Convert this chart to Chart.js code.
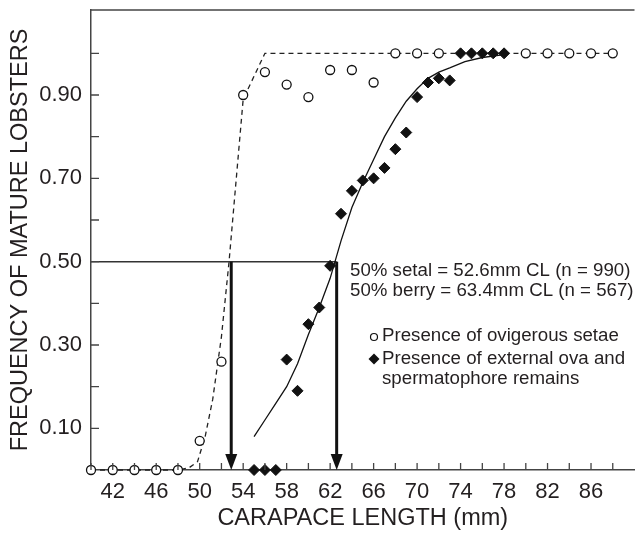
<!DOCTYPE html>
<html>
<head>
<meta charset="utf-8">
<script src="https://cdn.jsdelivr.net/npm/chart.js@4.4.0/dist/chart.umd.min.js"></script>
<style>
  html, body { margin: 0; padding: 0; background: #fff; }
  #wrap { width: 641px; height: 533px; }
</style>
</head>
<body>
<div id="wrap"><canvas id="chart"></canvas></div>
<script>
// observed frequencies
const setaeX = [40, 42, 44, 46, 48, 50, 52, 54, 56, 58, 60, 62, 64, 66, 68, 70, 72, 80, 82, 84, 86, 88];
const setaeY = [0, 0, 0, 0, 0, 0.07, 0.26, 0.90, 0.955, 0.925, 0.895, 0.96, 0.96, 0.93, 1, 1, 1, 1, 1, 1, 1, 1];
const berryX = [55, 56, 57, 58, 59, 60, 61, 62, 63, 64, 65, 66, 67, 68, 69, 70, 71, 72, 73, 74, 75, 76, 77, 78];
const berryY = [0, 0, 0, 0.265, 0.19, 0.35, 0.39, 0.49, 0.615, 0.67, 0.695, 0.70, 0.725, 0.77, 0.81, 0.895, 0.93, 0.94, 0.935, 1, 1, 1, 1, 1];

// fitted curves
const setaeFitX = [40, 48, 49, 49.8, 50.5, 51.2, 52, 52.7, 53.2, 54, 56, 88];
const setaeFitY = [0, 0, 0.005, 0.02, 0.08, 0.17, 0.32, 0.5, 0.65, 0.89, 1, 1];
const berryFitX = [55, 56, 57, 58, 59, 60, 61, 62, 63, 64, 65, 66, 67, 68, 69, 70, 71, 72, 73, 74.4, 76, 78];
const berryFitY = [0.08, 0.12, 0.16, 0.2, 0.255, 0.325, 0.39, 0.46, 0.55, 0.63, 0.69, 0.745, 0.8, 0.845, 0.885, 0.915, 0.94, 0.955, 0.965, 0.98, 0.99, 0.997];

// 50% markers
const halfLevel = 0.5;
const arrowX = [52.9, 62.6];

// ticks
const xTicks = [40, 42, 44, 46, 48, 50, 52, 54, 56, 58, 60, 62, 64, 66, 68, 70, 72, 74, 76, 78, 80, 82, 84, 86, 88];
const xLabels = [42, 46, 50, 54, 58, 62, 66, 70, 74, 78, 82, 86];
const yTicks = [0.1, 0.2, 0.3, 0.4, 0.5, 0.6, 0.7, 0.8, 0.9, 1.0];
const yLabels = [0.1, 0.3, 0.5, 0.7, 0.9];

const notes = ["50% setal = 52.6mm CL (n = 990)", "50% berry = 63.4mm CL (n = 567)"];
const legendSetae = "Presence of ovigerous setae";
const legendBerry = ["Presence of external ova and", "spermatophore remains"];

const ink = "#231f20";
const family = "'Liberation Sans', Arial, Helvetica, sans-serif";
const pts = (xs, ys) => xs.map((v, i) => ({ x: v, y: ys[i] }));

const frame = {
  id: "frame",
  beforeDatasetsDraw(chart) {
    const { ctx, chartArea: a, scales: { x, y } } = chart;
    const yHalf = y.getPixelForValue(halfLevel);
    const y0 = y.getPixelForValue(0);
    ctx.save();
    ctx.strokeStyle = "#333";
    ctx.lineWidth = 1.5;
    ctx.beginPath();
    ctx.moveTo(a.left, yHalf);
    ctx.lineTo(x.getPixelForValue(arrowX[1]), yHalf);
    ctx.stroke();
    arrowX.forEach((v) => {
      const px = x.getPixelForValue(v);
      ctx.strokeStyle = "#111";
      ctx.lineWidth = 3;
      ctx.beginPath();
      ctx.moveTo(px, yHalf);
      ctx.lineTo(px, y0 - 12);
      ctx.stroke();
      ctx.fillStyle = "#111";
      ctx.beginPath();
      ctx.moveTo(px - 6, y0 - 16);
      ctx.lineTo(px + 6, y0 - 16);
      ctx.lineTo(px, y0);
      ctx.closePath();
      ctx.fill();
    });
    ctx.restore();
  },
  afterDraw(chart) {
    const { ctx, chartArea: a, scales: { x, y } } = chart;
    ctx.save();
    // top border
    ctx.strokeStyle = "#444";
    ctx.lineWidth = 1.5;
    ctx.beginPath();
    ctx.moveTo(a.left, a.top);
    ctx.lineTo(a.right, a.top);
    ctx.stroke();
    // inward ticks
    ctx.lineWidth = 1.3;
    ctx.beginPath();
    yTicks.forEach((v) => {
      const py = y.getPixelForValue(v);
      ctx.moveTo(a.left, py);
      ctx.lineTo(a.left + 8, py);
    });
    xTicks.forEach((v) => {
      const px = x.getPixelForValue(v);
      ctx.moveTo(px, a.bottom);
      ctx.lineTo(px, a.bottom - 7);
    });
    ctx.stroke();

    // text
    ctx.fillStyle = ink;
    ctx.textBaseline = "middle";
    ctx.font = "18.7px " + family;
    ctx.fillText(notes[0], 350, 271);
    ctx.fillText(notes[1], 350, 291);
    ctx.fillText(legendSetae, 382, 336);
    ctx.fillText(legendBerry[0], 382, 359);
    ctx.fillText(legendBerry[1], 382, 379);

    // legend symbols
    ctx.strokeStyle = "#111";
    ctx.lineWidth = 1.2;
    ctx.beginPath();
    ctx.arc(374, 337, 3.5, 0, Math.PI * 2);
    ctx.stroke();
    ctx.fillStyle = "#111";
    ctx.beginPath();
    ctx.moveTo(374, 353.5);
    ctx.lineTo(379.5, 359);
    ctx.lineTo(374, 364.5);
    ctx.lineTo(368.5, 359);
    ctx.closePath();
    ctx.fill();
    ctx.restore();
  }
};

new Chart(document.getElementById("chart"), {
  type: "scatter",
  data: {
    datasets: [
      {
        label: "berry",
        data: pts(berryX, berryY),
        pointStyle: "rectRot",
        pointRadius: 5.5,
        pointBackgroundColor: "#111",
        pointBorderColor: "#111",
        pointBorderWidth: 1,
        clip: false
      },
      {
        label: "setae",
        data: pts(setaeX, setaeY),
        pointStyle: "circle",
        pointRadius: 4.5,
        pointBackgroundColor: "#fff",
        pointBorderColor: "#111",
        pointBorderWidth: 1.3,
        clip: false
      },
      {
        label: "berry fit",
        data: pts(berryFitX, berryFitY),
        showLine: true,
        borderColor: "#111",
        borderWidth: 1.3,
        pointRadius: 0,
        tension: 0,
        clip: false
      },
      {
        label: "setae fit",
        data: pts(setaeFitX, setaeFitY),
        showLine: true,
        borderColor: "#222",
        borderWidth: 1.3,
        borderDash: [5, 4],
        pointRadius: 0,
        tension: 0,
        clip: false
      }
    ]
  },
  options: {
    responsive: true,
    maintainAspectRatio: false,
    animation: false,
    devicePixelRatio: 1,
    layout: { padding: { top: 10, right: 0, bottom: 0, left: 0 } },
    plugins: { legend: { display: false }, tooltip: { enabled: false } },
    scales: {
      x: {
        type: "linear",
        min: 40,
        max: 90,
        afterBuildTicks: (s) => { s.ticks = xTicks.map((v) => ({ value: v })); },
        afterFit: (s) => { s.height = 63; s.paddingLeft = 0; s.paddingRight = 0; },
        grid: { display: false, drawTicks: false },
        border: { display: true, color: "#444", width: 1.5 },
        ticks: {
          autoSkip: false,
          maxRotation: 0,
          padding: 9,
          color: ink,
          font: { size: 22, family },
          callback: (v) => (xLabels.includes(v) ? String(v) : "")
        },
        title: {
          display: true,
          text: "CARAPACE LENGTH (mm)",
          color: ink,
          font: { size: 23.5, family },
          padding: { top: 0, bottom: 0 }
        }
      },
      y: {
        type: "linear",
        min: 0,
        max: 1.104,
        afterBuildTicks: (s) => { s.ticks = yTicks.map((v) => ({ value: v })); },
        afterFit: (s) => { s.width = 91; s.paddingTop = 0; s.paddingBottom = 0; },
        grid: { display: false, drawTicks: false },
        border: { display: true, color: "#444", width: 1.5 },
        ticks: {
          autoSkip: false,
          padding: 9,
          color: ink,
          font: { size: 22, family },
          callback: (v) => (yLabels.some((l) => Math.abs(l - v) < 1e-6) ? v.toFixed(2) : "")
        },
        title: {
          display: true,
          text: "FREQUENCY OF MATURE LOBSTERS",
          color: ink,
          font: { size: 23.5, family },
          padding: { top: 6, bottom: 0 }
        }
      }
    }
  },
  plugins: [frame]
});
</script>
</body>
</html>
